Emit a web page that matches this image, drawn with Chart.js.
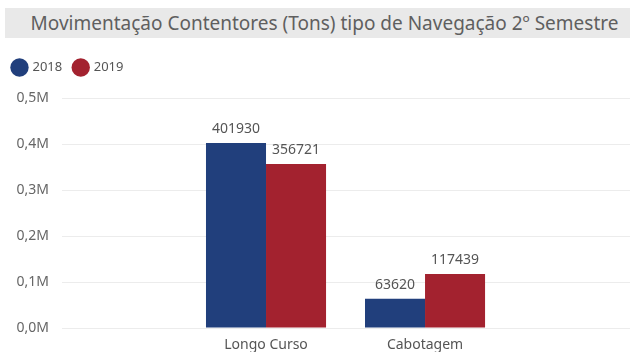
<!DOCTYPE html>
<html lang="pt">
<head>
<meta charset="UTF-8" />
<title>Movimentação Contentores</title>
<script src="https://cdn.jsdelivr.net/npm/chart.js"></script>
<style>
  body { margin: 0; background: #fff; font-family: "Noto Sans", sans-serif; }
  #wrap { position: relative; width: 635px; height: 352px; overflow: hidden; }
  #title {
    position: absolute; left: 5px; top: 8px; width: 625px; height: 30px;
    background: #e9e9e9; color: #5f5f5f; font-size: 19px; line-height: 30px;
    text-align: center; white-space: nowrap; text-indent: 14px;
  }
  canvas { position: absolute; left: 0; top: 0; }
</style>
</head>
<body>
<div id="wrap">
  <canvas id="chart" width="635" height="352"></canvas>
  <div id="title">Movimentação Contentores (Tons) tipo de Navegação 2º Semestre</div>
</div>
<script>
const categories = ['Longo Curso', 'Cabotagem'];
const years = ['2018', '2019'];
const values2018 = [401930, 63620];
const values2019 = [356721, 117439];
const colors = ['#213f7c', '#a3222f'];

const fmtM = v => (v / 1e6).toFixed(1).replace('.', ',') + 'M';

// value labels above each bar
const barLabels = {
  id: 'barLabels',
  afterDatasetsDraw(chart) {
    const ctx = chart.ctx;
    ctx.save();
    ctx.font = '14px "Noto Sans", sans-serif';
    ctx.fillStyle = '#555';
    ctx.textAlign = 'center';
    ctx.textBaseline = 'bottom';
    chart.data.datasets.forEach((ds, i) => {
      chart.getDatasetMeta(i).data.forEach((bar, j) => {
        ctx.fillText(String(ds.data[j].y), bar.x, bar.y - 7);
      });
    });
    ctx.restore();
  }
};

// leave extra room between the legend and the plot
const legendGap = {
  id: 'legendGap',
  beforeLayout(chart) {
    const lg = chart.legend;
    if (lg && !lg._gapPatched) {
      const fit = lg.fit;
      lg.fit = function () { fit.call(this); this.height += 14; };
      lg._gapPatched = true;
    }
  }
};

const series = [values2018, values2019];

new Chart(document.getElementById('chart'), {
  type: 'bar',
  data: {
    datasets: years.map((y, i) => ({
      label: y,
      data: series[i].map((v, j) => ({ x: j, y: v })),
      backgroundColor: colors[i],
      borderWidth: 0,
      categoryPercentage: 0.755,
      barPercentage: 1
    }))
  },
  options: {
    responsive: false,
    animation: false,
    layout: { padding: { top: 49, right: 5, left: 1, bottom: 0 } },
    plugins: {
      tooltip: { enabled: false },
      legend: {
        position: 'top',
        align: 'start',
        labels: {
          usePointStyle: true,
          pointStyle: 'circle',
          boxWidth: 13,
          boxHeight: 13,
          padding: 12,
          color: '#555',
          font: { size: 13, family: '"Noto Sans", sans-serif' }
        }
      }
    },
    scales: {
      x: {
        type: 'linear',
        min: -1.283,
        max: 2.289,
        offset: false,
        grid: { display: false, drawTicks: false },
        border: { display: false },
        afterFit: s => { s.height = 24; },
        afterBuildTicks: s => { s.ticks = categories.map((c, i) => ({ value: i })); },
        ticks: {
          padding: 9,
          color: '#555',
          font: { size: 14, family: '"Noto Sans", sans-serif' },
          callback: v => categories[v]
        }
      },
      y: {
        min: 0,
        max: 500000,
        afterFit: s => { s.width = 61; },
        grid: { color: '#ececec', drawTicks: false },
        border: { display: false },
        ticks: {
          stepSize: 100000,
          padding: 13,
          color: '#666',
          font: { size: 14, family: '"Noto Sans", sans-serif' },
          callback: v => fmtM(v)
        }
      }
    }
  },
  plugins: [barLabels, legendGap]
});
</script>
</body>
</html>
